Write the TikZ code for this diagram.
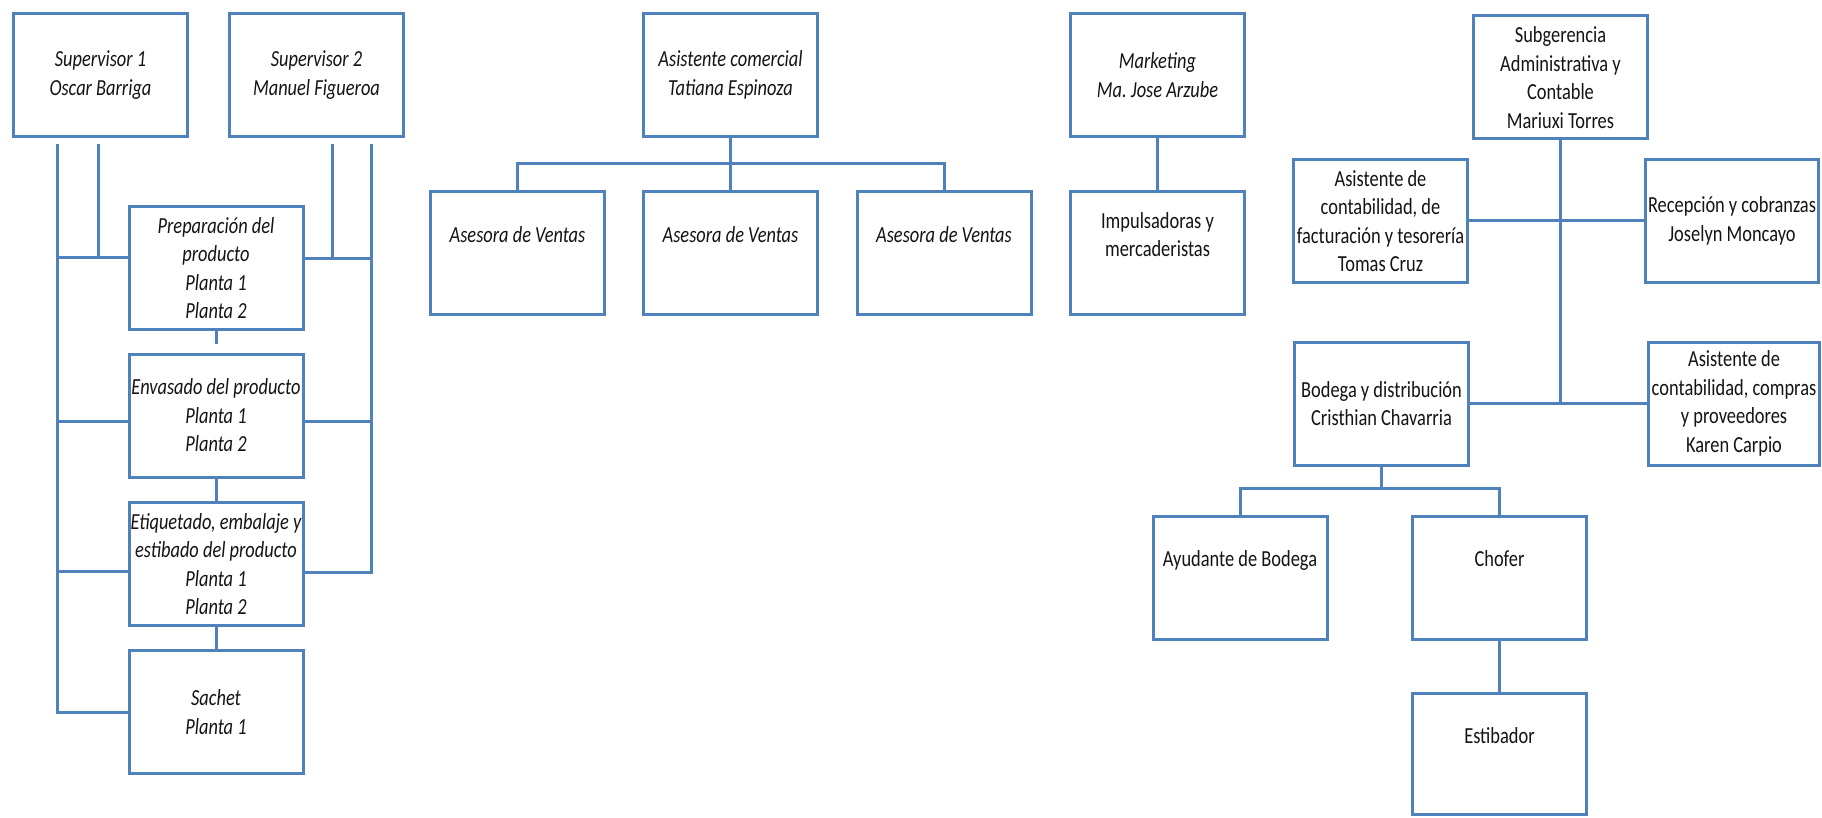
\documentclass[tikz,border=0pt]{standalone}
\usepackage{fontspec}
\setmainfont{Carlito}[FakeStretch=0.8]
\usetikzlibrary{calc}
\frenchspacing
\definecolor{frameblue}{RGB}{79,129,189}
\definecolor{inkgray}{RGB}{20,20,20}
\tikzset{
  orgbox/.style={draw=frameblue, line width=3pt, fill=white,
    minimum width=174pt, minimum height=123pt, inner sep=0pt,
    align=center, text=inkgray, font=\fontsize{23}{28.5}\selectfont},
  itbox/.style={orgbox, font=\fontsize{23}{28.5}\selectfont\itshape},
  link/.style={draw=frameblue, line width=3pt}
}
\begin{document}
\begin{tikzpicture}[x=1pt, y=-1pt]
\useasboundingbox (0,0) rectangle (1822,818);

% Production supervisors and stages
\node[itbox] (sup1) at (100.5,75) {Supervisor 1\\Oscar Barriga};
\node[itbox] (sup2) at (316.5,75) {Supervisor 2\\Manuel Figueroa};
\node[itbox] (prep) at (216,268) {Preparación del\\producto\\Planta 1\\Planta 2};
\node[itbox] (env) at (216,415.5) {Envasado del producto\\Planta 1\\Planta 2};
\node[itbox] (etiq) at (216,564) {Etiquetado, embalaje y\\estibado del producto\\Planta 1\\Planta 2};
\node[itbox] (sachet) at (216,712) {Sachet\\Planta 1};

% Commercial area
\node[itbox] (asist) at (730.5,75) {Asistente comercial\\Tatiana Espinoza};
\node[itbox] (ase1) at (517.5,253) {Asesora de Ventas\\\strut};
\node[itbox] (ase2) at (730.5,253) {Asesora de Ventas\\\strut};
\node[itbox] (ase3) at (944,253) {Asesora de Ventas\\\strut};

% Marketing
\node[itbox] (mkt) at (1157.5,75) {Marketing\\Ma. Jose Arzube};
\node[orgbox] (imp) at (1157.5,253) {Impulsadoras y\\mercaderistas\\\strut};

% Administration
\node[orgbox] (subg) at (1560.5,77.5) {Subgerencia\\Administrativa y\\Contable\\Mariuxi Torres};
\node[orgbox] (tom) at (1380.5,221) {Asistente de\\contabilidad, de\\facturación y tesorería\\Tomas Cruz};
\node[orgbox, minimum width=173pt] (rec) at (1732,221) {Recepción y cobranzas\\Joselyn Moncayo};
\node[orgbox] (bod) at (1381.5,403.5) {Bodega y distribución\\Cristhian Chavarria};
\node[orgbox, minimum width=171pt] (kar) at (1734,403.5) {Asistente de\\contabilidad, compras\\y proveedores\\Karen Carpio};
\node[orgbox] (ayu) at (1240,577.5) {Ayudante de Bodega\\\strut};
\node[orgbox] (cho) at (1499.5,577.5) {Chofer\\\strut};
\node[orgbox, minimum height=121pt] (est) at (1499.5,754) {Estibador\\\strut};

% Supervisor buses
\coordinate (l1) at (57,144);
\coordinate (l2) at (98,144);
\coordinate (r1) at (332,144);
\coordinate (r2) at (371,144);
\coordinate (pw) at ([yshift=10pt]prep.west);
\coordinate (ew) at ([yshift=-6pt]env.west);
\coordinate (tw) at ([yshift=-7pt]etiq.west);
\coordinate (pe) at ([yshift=9pt]prep.east);
\coordinate (ee) at ([yshift=-6pt]env.east);
\coordinate (te) at ([yshift=-8pt]etiq.east);

\draw[link] (l1) |- (sachet.west);
\draw[link] (l2) |- (pw);
\draw[link] (l1 |- pw) -- (pw);
\draw[link] (l1 |- ew) -- (ew);
\draw[link] (l1 |- tw) -- (tw);
\draw[link] (r2) |- (te);
\draw[link] (r1) |- (pe);
\draw[link] (r2 |- pe) -- (pe);
\draw[link] (r2 |- ee) -- (ee);

% Stage sequence
\draw[link, shorten >=9pt] (prep) -- (env);
\draw[link] (env) -- (etiq);
\draw[link] (etiq) -- (sachet);

% Commercial links
\coordinate (mb) at (730.5,164);
\draw[link] (asist) -- (ase2);
\draw[link] (ase1) |- (mb) -| (ase3);

% Marketing link
\draw[link] (mkt) -- (imp);

% Administration links
\draw[link] (subg) -- (subg |- bod);
\draw[link] (tom) -- (rec);
\draw[link] (bod) -- (kar);
\coordinate (bb) at (1381.5,488);
\draw[link] (bod) -- (bb);
\draw[link] (ayu) |- (bb) -| (cho);
\draw[link] (cho) -- (est);
\end{tikzpicture}
\end{document}
